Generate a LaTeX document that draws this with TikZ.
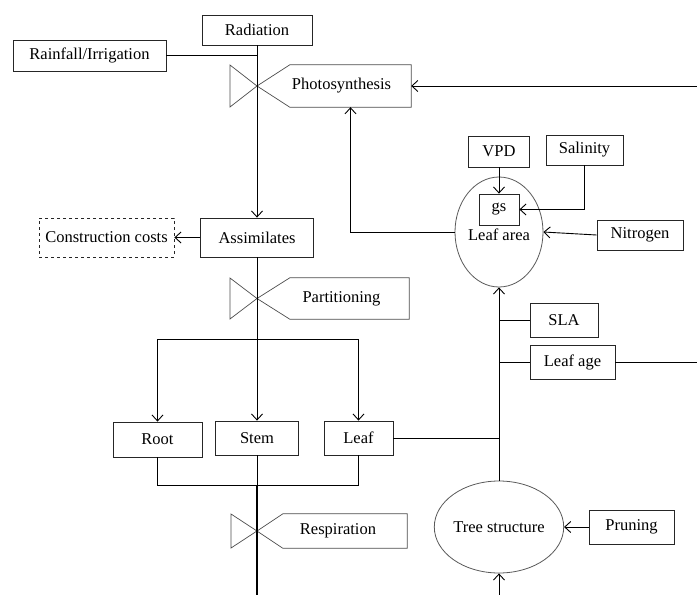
\documentclass[tikz,border=0pt]{standalone}
\usepackage{fontspec}
\setmainfont{Liberation Serif}
\usetikzlibrary{arrows.meta,shapes.geometric}
\begin{document}
\begin{tikzpicture}[x=1pt,y=-1pt]

    \tikzset{
      box/.style={
        draw={black!85},
        text={black},
        line width=0.8pt,
        inner sep=0pt,
        font=\fontsize{16.5}{19}\selectfont,
      },
      pool/.style={
        box,
        ellipse,
        draw={black!65},
      },
      field/.style={
        inner sep=0pt,
        text={black},
        font=\fontsize{16.5}{19}\selectfont,
      },
      valve/.style={
        color={black!70},
        line width=0.7pt,
      },
      flow/.style={
        color={black},
        line width=0.9pt,
        >={Straight Barb[length=6pt,width=11pt]},
      },
    }
    \useasboundingbox (0,0) rectangle (697,595);

	\node[box,minimum width=110,minimum height=30] (rad) at (257,30) {Radiation};
	\node[box,minimum width=153,minimum height=31] (rain) at (89.5,55.5) {Rainfall/Irrigation};
	\node[box,minimum width=113,minimum height=39] (assim) at (257,237.5) {Assimilates};
	\node[box,dashed,minimum width=135,minimum height=39] (cost) at (106.5,237.5) {Construction costs};
	\node[box,minimum width=89,minimum height=35] (root) at (157.5,439.5) {Root};
	\node[box,minimum width=83,minimum height=34] (stem) at (257,438) {Stem};
	\node[box,minimum width=69,minimum height=34] (leaf) at (358.5,438) {Leaf};
	\node[box,minimum width=61,minimum height=31] (vpd) at (499,151.5) {VPD};
	\node[box,minimum width=77,minimum height=30] (sal) at (584.5,150) {Salinity};
	\node[pool,minimum width=88,minimum height=110] (larea) at (499,232) {};
	\node[field] (latext) at (499,235) {Leaf area};
	\node[box,minimum width=40,minimum height=31] (gs) at (499,209.5) {gs};
	\node[box,minimum width=86,minimum height=30] (nit) at (640,235) {Nitrogen};
	\node[box,minimum width=68,minimum height=34] (sla) at (564,320) {SLA};
	\node[box,minimum width=85,minimum height=34] (age) at (572.5,362) {Leaf age};
	\node[pool,minimum width=103,minimum height=92] (tree) at (499,527) {Tree structure};
	\node[box,minimum width=85,minimum height=34] (prune) at (631.5,527) {Pruning};

	\coordinate (vphoto) at (257,86);
	\coordinate (vpart) at (257,298.5);
	\coordinate (vresp) at (257,531);
	\node[field,minimum width=121,minimum height=42,label={[field,xshift=-9pt]center:Photosynthesis}] (photo) at (350.5,86) {};
	\node[field,minimum width=119,minimum height=41,label={[field,xshift=-8pt]center:Partitioning}] (part) at (349.5,298.5) {};
	\node[field,minimum width=124,minimum height=34,label={[field,xshift=-7pt]center:Respiration}] (resp) at (345,531) {};

	\draw[valve] (vphoto) -- ++(-27,-21) -- ++(0,42) -- cycle;
	\draw[valve] (vphoto) -- (photo.north west) -- (photo.north east) -- (photo.south east) -- (photo.south west) -- cycle;
	\draw[valve] (vpart) -- ++(-27,-20.5) -- ++(0,41) -- cycle;
	\draw[valve] (vpart) -- (part.north west) -- (part.north east) -- (part.south east) -- (part.south west) -- cycle;
	\draw[valve] (vresp) -- ++(-26,-17) -- ++(0,34) -- cycle;
	\draw[valve] (vresp) -- (resp.north west) -- (resp.north east) -- (resp.south east) -- (resp.south west) -- cycle;

	\coordinate (inphoto) at (697,86);
	\coordinate (split) at (257,339);
	\coordinate (merge) at (257,485);
	\coordinate (sink) at (257,595);
	\coordinate (outage) at (697,362);
	\coordinate (intree) at (499,595);

	\draw[flow,->] (rad.south) -- (assim.north);
	\draw[flow] (rain.east) -- (rain.east -| rad.south);
	\draw[flow,->] (inphoto) -- (photo.east);
	\draw[flow,->] (larea.west) -| (photo.south);
	\draw[flow,->] (assim.west) -- (cost.east);
	\draw[flow] (assim.south) -- (split);
	\draw[flow] (split -| root.north) -- (split -| leaf.north);
	\draw[flow,->] (split -| root.north) -- (root.north);
	\draw[flow,->] (split) -- (stem.north);
	\draw[flow,->] (split -| leaf.north) -- (leaf.north);
	\draw[flow] (root.south) -- (root.south |- merge) -- (merge);
	\draw[flow] (leaf.south) -- (leaf.south |- merge) -- (merge);
	\draw[flow] (stem.south) -- (merge);
	\draw[flow,line width=1.6pt] (merge) -- (sink);

	\draw[flow,->] (tree.north) -- (larea.south);
	\draw[flow] (leaf.east) -- (leaf.east -| tree.north);
	\draw[flow] (sla.west) -- (sla.west -| tree.north);
	\draw[flow] (age.west) -- (age.west -| tree.north);
	\draw[flow] (age.east) -- (outage);
	\draw[flow,->] (vpd.south) -- (gs.north);
	\draw[flow,->] (sal.south) |- (gs.east);
	\draw[flow,->] (nit.west) -- (larea.east);
	\draw[flow,->] (prune.west) -- (tree.east);
	\draw[flow,->] (intree) -- (tree.south);

\end{tikzpicture}
\end{document}
